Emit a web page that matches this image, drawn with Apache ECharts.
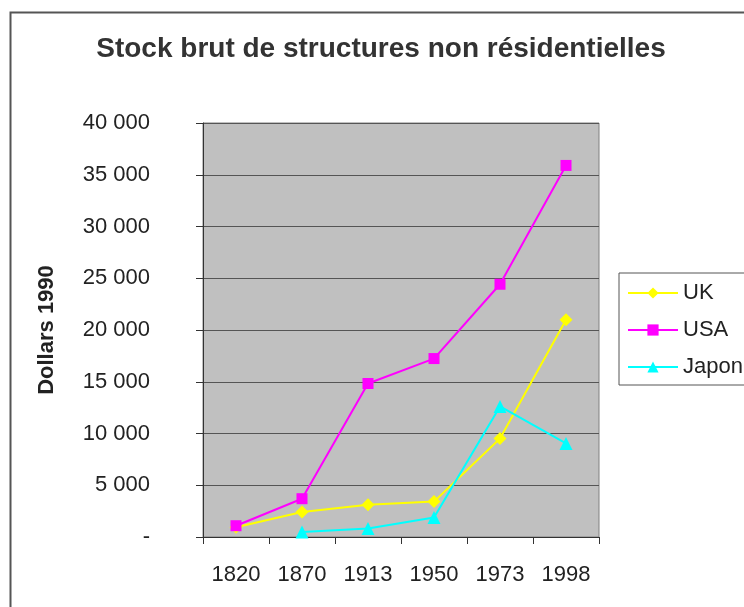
<!DOCTYPE html>
<html><head><meta charset="utf-8">
<script src="https://cdn.jsdelivr.net/npm/echarts@6/dist/echarts.min.js"></script>
<style>html,body{margin:0;padding:0;background:#fff}#c{width:744px;height:607px}</style>
</head><body><div id="c"></div>
<script>
const categories = ['1820', '1870', '1913', '1950', '1973', '1998'];
const ukValues = [950, 2420, 3120, 3420, 9520, 21000];
const usaValues = [1090, 3700, 14830, 17240, 24420, 35900];
const japonValues = [null, 480, 830, 1880, 12610, 9040];
const yTicks = [0, 5000, 10000, 15000, 20000, 25000, 30000, 35000, 40000];

const chart = echarts.init(document.getElementById('c'));
const font = 'Liberation Sans, Arial, sans-serif';
function fmt(v) {
  if (v === 0) return '-';
  return String(v).replace(/\B(?=(\d{3})+(?!\d))/g, ' ');
}
chart.setOption({
  animation: false,
  backgroundColor: '#fff',
  graphic: [{
    type: 'rect', left: 8, top: 10, shape: { width: 760, height: 620 },
    style: { fill: null, stroke: '#555', lineWidth: 2 }, z: -1
  }],
  title: {
    text: 'Stock brut de structures non résidentielles',
    left: 376, top: 30, textAlign: 'center',
    textStyle: { fontFamily: font, fontSize: 28, fontWeight: 'bold', color: '#333' }
  },
  legend: {
    orient: 'vertical', left: 619, top: 273,
    padding: [9, 20, 7, 8],
    borderColor: '#555', borderWidth: 1,
    itemWidth: 50, itemHeight: 14, itemGap: 15,
    textStyle: { fontFamily: font, fontSize: 22, color: '#222' },
    data: ['UK', 'USA', 'Japon']
  },
  grid: {
    left: 203, right: 145, top: 123, bottom: 70,
    show: true, backgroundColor: '#C0C0C0', borderColor: '#808080', borderWidth: 1
  },
  xAxis: {
    type: 'category', data: categories, boundaryGap: true,
    axisLine: { lineStyle: { color: '#333', width: 1 } },
    axisTick: { show: true, length: 7, lineStyle: { color: '#333' } },
    axisLabel: { fontFamily: font, fontSize: 22, color: '#222', margin: 27 }
  },
  yAxis: {
    type: 'value', min: 0, max: 40000, interval: 5000,
    name: 'Dollars 1990', nameLocation: 'middle', nameGap: 145, nameRotate: 90,
    nameTextStyle: { fontFamily: font, fontSize: 22, fontWeight: 'bold', color: '#222' },
    axisLine: { show: true, lineStyle: { color: '#333', width: 1 } },
    axisTick: { show: true, length: 7, lineStyle: { color: '#333' } },
    splitLine: { lineStyle: { color: '#555', width: 1 } },
    axisLabel: { fontFamily: font, fontSize: 22, color: '#222', margin: 53, formatter: fmt }
  },
  series: [
    { name: 'UK', type: 'line', data: ukValues, symbol: 'diamond', symbolSize: 13,
      itemStyle: { color: '#FFFF00' }, lineStyle: { color: '#FFFF00', width: 2 } },
    { name: 'USA', type: 'line', data: usaValues, symbol: 'rect', symbolSize: 11,
      itemStyle: { color: '#FF00FF' }, lineStyle: { color: '#FF00FF', width: 2 } },
    { name: 'Japon', type: 'line', data: japonValues, symbol: 'triangle', symbolSize: 13,
      itemStyle: { color: '#00FFFF' }, lineStyle: { color: '#00FFFF', width: 2 } }
  ]
});
</script></body></html>
